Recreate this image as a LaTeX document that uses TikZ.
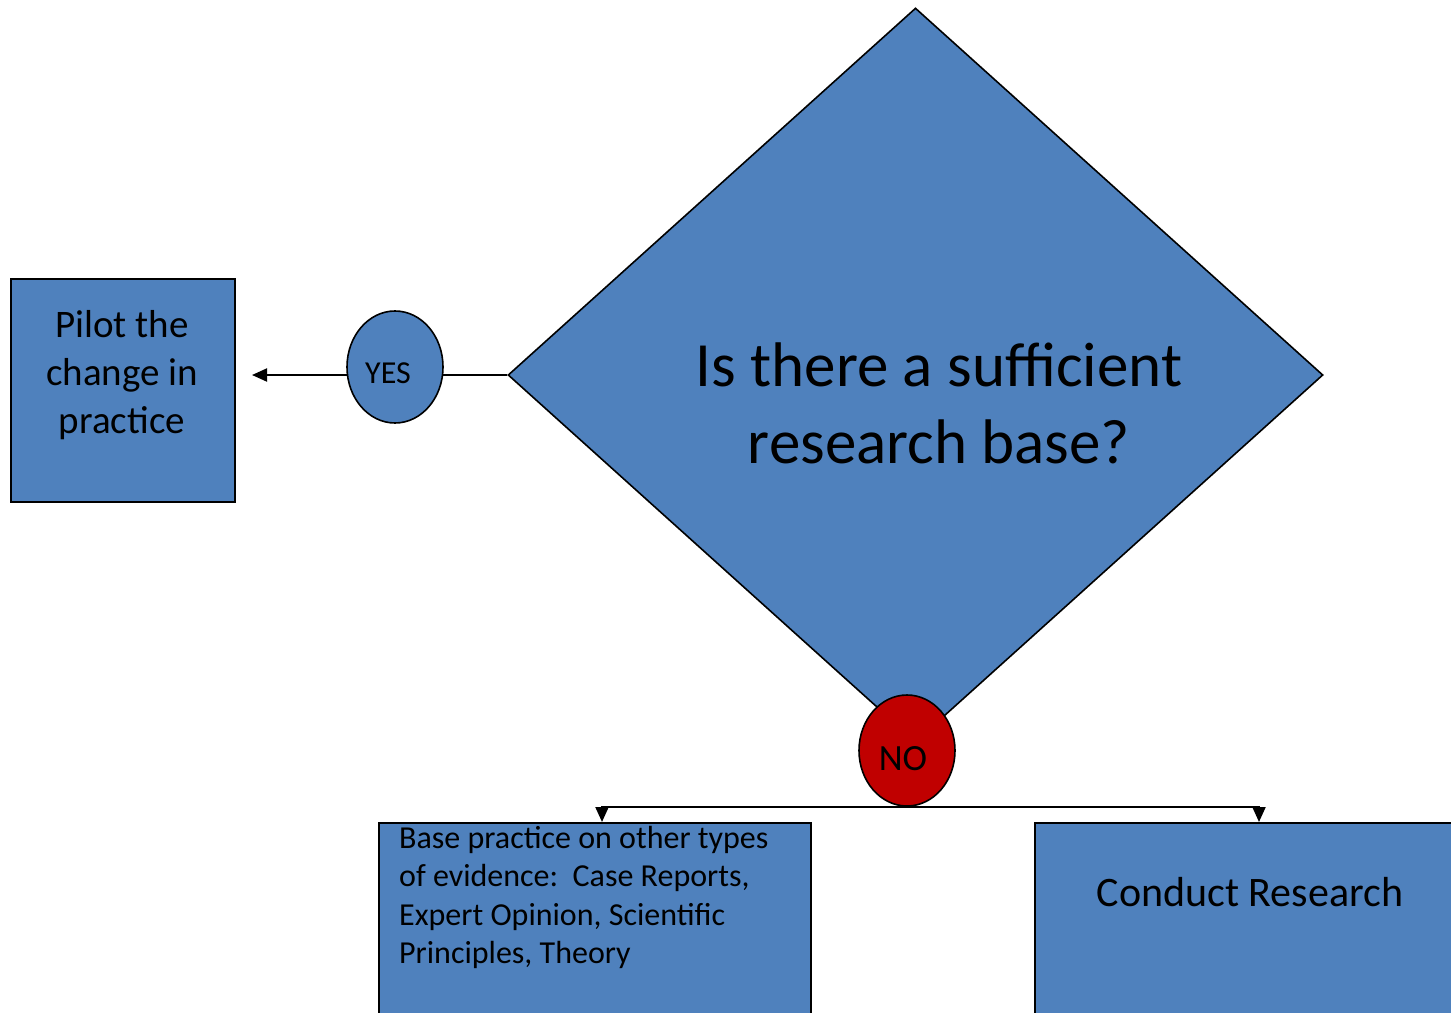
\documentclass[tikz,border=0pt]{standalone}
\usepackage{fontspec}
\setmainfont{Carlito}
\usetikzlibrary{shapes.geometric,arrows.meta}
\definecolor{boxblue}{HTML}{4F81BD}
\definecolor{nored}{HTML}{C00000}
\pgfdeclarelayer{bg}
\pgfsetlayers{bg,main}
\begin{document}
\begin{tikzpicture}[x=1pt,y=-1pt,
  shapefill/.style={draw=black, line width=1.6pt, fill=boxblue, inner sep=0pt},
  conn/.style={draw=black, line width=2pt},
  tip/.style={-{Triangle[length=15pt,width=13pt]}}]
\clip (0,0) rectangle (1451,1012);

% decision diamond and its question
\node[shapefill, diamond, minimum width=815pt, minimum height=734pt] (q) at (915.5,375) {};
\node[font=\fontsize{63}{77}\selectfont, align=center] (qt) at (939,403) {Is there a sufficient\\research base?};

% outcome on YES
\node[shapefill, rectangle, line width=2pt, minimum width=224pt, minimum height=223pt] (pilot) at (123,390.5) {};
\node[font=\fontsize{39}{48}\selectfont, align=center] (pilott) at (122,375) {Pilot the\\change in\\practice};
\node[shapefill, ellipse, minimum width=96pt, minimum height=112pt] (yes) at (395,367) {};
\node[font=\fontsize{32}{38}\selectfont] (yest) at (388,373) {YES};
\coordinate (pin) at (252,375);

% outcomes on NO
\node[shapefill, ellipse, fill=nored, minimum width=96pt, minimum height=111pt] (no) at (907,750.5) {};
\node[font=\fontsize{37}{44}\selectfont] (not) at (903,759) {NO};
\node[shapefill, rectangle, line width=2pt, minimum width=432pt, minimum height=230pt] (evid) at (595,938) {};
\node[font=\fontsize{32}{38.5}\selectfont, align=left, anchor=north west, inner sep=0pt] (evidt) at (399,826) {Base practice on other types\\of evidence:\ \ Case Reports,\\Expert Opinion, Scientific\\Principles, Theory};
\node[shapefill, rectangle, line width=2pt, minimum width=448pt, minimum height=230pt] (res) at (1259,938) {};
\node[font=\fontsize{42}{50}\selectfont] (rest) at (1250,892) {Conduct Research};

% connectors
\begin{pgfonlayer}{bg}
  \draw[conn] (q.west) -- (yes.center |- q.west);
  \draw[conn, tip] (yes.center |- q.west) -- (pin);
\end{pgfonlayer}
\draw[conn, tip] (no.south) -| ([xshift=7pt]evid.north);
\draw[conn, tip] (no.south) -| (res.north);
\end{tikzpicture}
\end{document}
